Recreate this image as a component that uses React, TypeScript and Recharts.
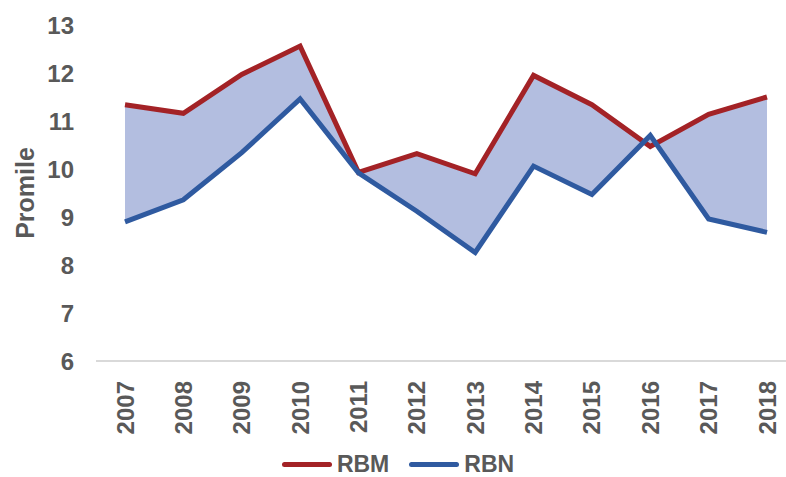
import { ComposedChart, Line, Area, XAxis, YAxis, Legend, Label } from 'recharts';

const years = ['2007', '2008', '2009', '2010', '2011', '2012', '2013', '2014', '2015', '2016', '2017', '2018'];
const rbm = [11.34, 11.16, 11.97, 12.56, 9.93, 10.32, 9.9, 11.95, 11.34, 10.47, 11.14, 11.5];
const rbn = [8.9, 9.36, 10.34, 11.46, 9.92, 9.12, 8.26, 10.06, 9.47, 10.7, 8.96, 8.68];
const yTicks = [6, 7, 8, 9, 10, 11, 12, 13];

const RED = '#a32226';
const BLUE = '#2f5aa0';
const FILL = '#b3bee0';
const GREY = '#595959';
const FONT = '"Liberation Sans", Arial, sans-serif';

const data = years.map((year, i) => ({
  year,
  RBM: rbm[i],
  RBN: rbn[i],
  band: [rbn[i], rbm[i]],
}));

const YearTick = (props: any) => {
  const { x, y, payload } = props;
  const ty = y + 12;
  return (
    <text
      x={x}
      y={ty}
      transform={`rotate(-90, ${x}, ${ty})`}
      textAnchor="end"
      dominantBaseline="central"
      fill={GREY}
      fontSize={24}
      fontWeight="bold"
      fontFamily={FONT}
    >
      {payload.value}
    </text>
  );
};

const LegendContent = () => {
  const items = [
    { name: 'RBM', color: RED },
    { name: 'RBN', color: BLUE },
  ];
  return (
    <div style={{ display: 'flex', justifyContent: 'center', alignItems: 'center', gap: 20, paddingTop: 5 }}>
      {items.map((it) => (
        <div key={it.name} style={{ display: 'flex', alignItems: 'center' }}>
          <div style={{ width: 50, height: 5, borderRadius: 3, background: it.color, marginRight: 5 }} />
          <span style={{ fontFamily: FONT, fontWeight: 'bold', fontSize: 23, lineHeight: '24px', color: GREY }}>{it.name}</span>
        </div>
      ))}
    </div>
  );
};

export default function App() {
  return (
    <div style={{ position: 'absolute', left: 0, top: 0, width: 786, height: 477, overflow: 'hidden', background: '#fff' }}>
      <ComposedChart width={800} height={477} data={data} margin={{ top: 25, right: 4, bottom: 0, left: 0 }}>
        <XAxis
          dataKey="year"
          height={86}
          tick={<YearTick />}
          tickLine={false}
          axisLine={{ stroke: '#d9d9d9', strokeWidth: 2 }}
          interval={0}
          padding={{ left: 29, right: 29 }}
        />
        <YAxis
          width={96}
          domain={[6, 13]}
          ticks={yTicks}
          axisLine={false}
          tickLine={false}
          tickMargin={16}
          tick={{ fill: GREY, fontSize: 24, fontWeight: 'bold', fontFamily: FONT }}
        >
          <Label
            content={({ viewBox }: any) => {
              const cy = viewBox.y + viewBox.height / 2;
              return (
                <text
                  x={25}
                  y={cy}
                  transform={`rotate(-90, 25, ${cy})`}
                  textAnchor="middle"
                  dominantBaseline="central"
                  fill={GREY}
                  fontSize={25}
                  fontWeight="bold"
                  fontFamily={FONT}
                >
                  Promile
                </text>
              );
            }}
          />
        </YAxis>
        <Legend verticalAlign="bottom" height={30} content={<LegendContent />} />
        <Area dataKey="band" stroke="none" fill={FILL} fillOpacity={1} isAnimationActive={false} legendType="none" />
        <Line dataKey="RBM" stroke={RED} strokeWidth={5} dot={false} isAnimationActive={false} />
        <Line dataKey="RBN" stroke={BLUE} strokeWidth={5} dot={false} isAnimationActive={false} />
      </ComposedChart>
    </div>
  );
}
